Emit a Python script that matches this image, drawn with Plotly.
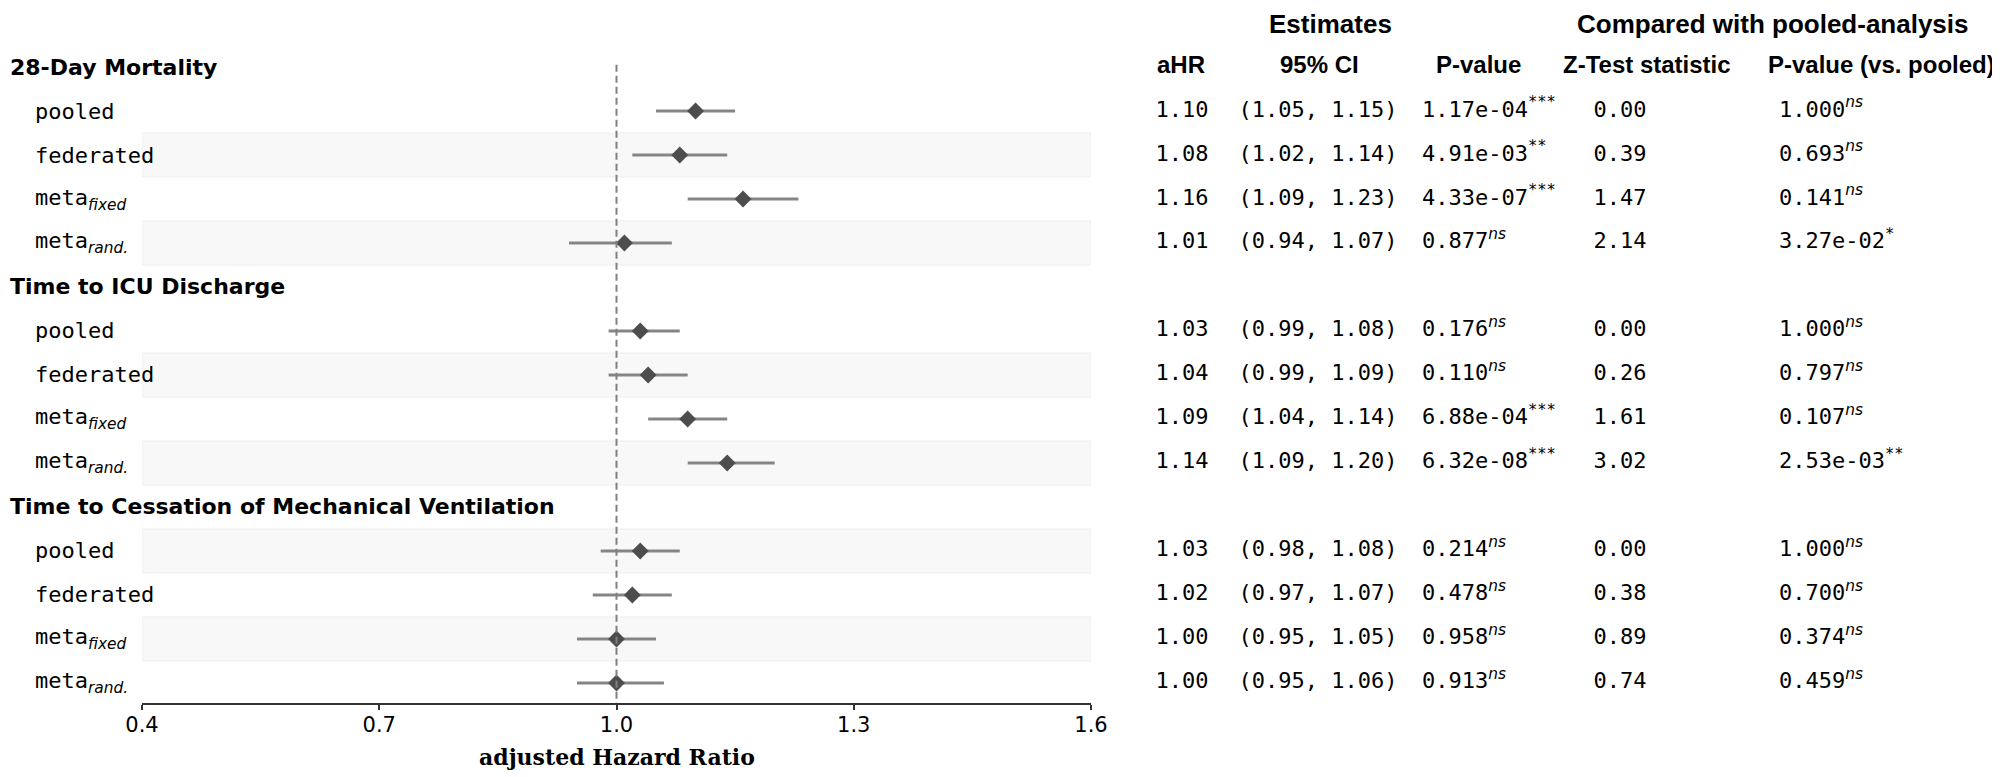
import plotly.graph_objects as go

# ---------------- data ----------------
outcomes = ["28-Day Mortality", "Time to ICU Discharge",
            "Time to Cessation of Mechanical Ventilation"]
methods = ["pooled", "federated", "meta_fixed", "meta_rand"]

ahr   = [1.10, 1.08, 1.16, 1.01,  1.03, 1.04, 1.09, 1.14,  1.03, 1.02, 1.00, 1.00]
ci_lo = [1.05, 1.02, 1.09, 0.94,  0.99, 0.99, 1.04, 1.09,  0.98, 0.97, 0.95, 0.95]
ci_hi = [1.15, 1.14, 1.23, 1.07,  1.08, 1.09, 1.14, 1.20,  1.08, 1.07, 1.05, 1.06]
p_val = ["1.17e-04", "4.91e-03", "4.33e-07", "0.877",
         "0.176", "0.110", "6.88e-04", "6.32e-08",
         "0.214", "0.478", "0.958", "0.913"]
p_sig = ["***", "**", "***", "ns", "ns", "ns", "***", "***", "ns", "ns", "ns", "ns"]
z_stat = ["0.00", "0.39", "1.47", "2.14", "0.00", "0.26", "1.61", "3.02",
          "0.00", "0.38", "0.89", "0.74"]
p_pool = ["1.000", "0.693", "0.141", "3.27e-02", "1.000", "0.797", "0.107", "2.53e-03",
          "1.000", "0.700", "0.374", "0.459"]
p_pool_sig = ["ns", "ns", "ns", "*", "ns", "ns", "ns", "**", "ns", "ns", "ns", "ns"]

x_ticks = [0.4, 0.7, 1.0, 1.3, 1.6]
col_headers = ["aHR", "95% CI", "P-value", "Z-Test statistic", "P-value (vs. pooled)"]
group_headers = ["Estimates", "Compared with pooled-analysis"]
x_label = "adjusted Hazard Ratio"
shaded_rows = [2, 4, 7, 9, 11, 13]

# ---------------- layout helpers (page pixel coordinates) ----------------
PAGE_W, PAGE_H = 2000, 777
OFF = 8                       # default body margin of the html page
W, H = PAGE_W - OFF, PAGE_H - OFF
L, R, T, B = 142, 1091, 45, 703   # forest plot area in page pixels
TL = 1100                          # table area starts here (page pixels)
PH = B - T


def px(x):
    return (x - OFF) / W


def py(y):
    return (B - y) / PH


MONO = "DejaVu Sans Mono"
SANS = "DejaVu Sans"
HEAD = "Liberation Sans"


def method_label(m):
    if m == "meta_fixed":
        return "meta<sub><span style='font-family:DejaVu Sans'><i>fixed</i></span></sub>"
    if m == "meta_rand":
        return "meta<sub><span style='font-family:DejaVu Sans'><i>rand.</i></span></sub>"
    return m


def sig(s):
    if s == "ns":
        return "<sup><span style='font-family:DejaVu Sans'><i>ns</i></span></sup>"
    return "<sup>" + s + "</sup>"


# rows: each outcome header followed by its methods
row_y = []
row_kind = []
item_rows = []
r = 0
for g, name in enumerate(outcomes):
    row_y.append(r)
    row_kind.append(("head", name))
    r += 1
    for m in methods:
        row_y.append(r)
        row_kind.append(("item", m))
        item_rows.append(r)
        r += 1

fig = go.Figure()

fig.add_trace(go.Scatter(
    x=ahr, y=item_rows, mode="markers",
    marker=dict(symbol="diamond", size=13, color="#4d4d4d", line=dict(width=0)),
    error_x=dict(type="data", symmetric=False,
                 array=[h - a for h, a in zip(ci_hi, ahr)],
                 arrayminus=[a - l for a, l in zip(ahr, ci_lo)],
                 color="#858585", thickness=3, width=0),
    showlegend=False, hoverinfo="skip",
))

# ---------------- table as text traces on a pixel-scaled axis ----------------
table_cols = [
    (1182, "middle center", [f"{v:.2f}" for v in ahr]),
    (1318, "middle center", [f"({lo:.2f}, {hi:.2f})" for lo, hi in zip(ci_lo, ci_hi)]),
    (1422, "middle right", [p + sig(s) for p, s in zip(p_val, p_sig)]),
    (1620, "middle center", z_stat),
    (1779, "middle right", [p + sig(s) for p, s in zip(p_pool, p_pool_sig)]),
]
for cx, pos, texts in table_cols:
    fig.add_trace(go.Scatter(
        x=[cx] * len(texts), y=item_rows, text=texts, mode="text",
        textposition=pos, textfont=dict(family=MONO, size=22, color="black"),
        cliponaxis=False, xaxis="x2", yaxis="y", showlegend=False, hoverinfo="skip",
    ))

shapes = []
for sr in shaded_rows:
    shapes.append(dict(type="rect", xref="x", yref="y", x0=0.4, x1=1.6,
                       y0=sr - 0.5, y1=sr + 0.5, fillcolor="#f8f8f8",
                       line=dict(color="#efefef", width=1), layer="below"))
shapes.append(dict(type="line", xref="x", yref="y", x0=1.0, x1=1.0,
                   y0=-0.05, y1=14.455, line=dict(color="#808080", width=2, dash="7px,4px"),
                   layer="above"))

ann = []
for ry, (kind, txt) in zip(row_y, row_kind):
    if kind == "head":
        ann.append(dict(text="<b>" + txt + "</b>", xref="paper", yref="y", x=px(OFF), y=ry,
                        xanchor="left", yanchor="middle", showarrow=False,
                        font=dict(family=SANS, size=22, color="black")))
    else:
        ann.append(dict(text=method_label(txt), xref="paper", yref="y", x=px(33), y=ry,
                        xanchor="left", yanchor="middle", showarrow=False,
                        font=dict(family=MONO, size=22, color="black")))

col_x = [1181, 1319, 1478, 1647, 1881]
for cx, t in zip(col_x, col_headers):
    ann.append(dict(text="<b>" + t + "</b>", xref="paper", yref="paper", x=px(cx), y=py(65),
                    xanchor="center", yanchor="middle", showarrow=False,
                    font=dict(family=HEAD, size=24, color="black")))
for cx, t in zip([1330, 1773], group_headers):
    ann.append(dict(text="<b>" + t + "</b>", xref="paper", yref="paper", x=px(cx), y=py(24),
                    xanchor="center", yanchor="middle", showarrow=False, borderpad=0,
                    font=dict(family=HEAD, size=26, color="black")))

ann.append(dict(text="<b>" + x_label + "</b>", xref="paper", yref="paper",
                x=px((L + R) / 2), y=py(757),
                xanchor="center", yanchor="middle", showarrow=False,
                font=dict(family="DejaVu Serif", size=22, color="black")))

fig.update_layout(
    width=W, height=H,
    margin=dict(l=0, r=0, t=T - OFF, b=PAGE_H - B, pad=0, autoexpand=False),
    paper_bgcolor="white", plot_bgcolor="white",
    shapes=shapes, annotations=ann,
    xaxis=dict(domain=[px(L), px(R)], range=[0.4, 1.6], tickvals=x_ticks,
               ticktext=[f"{v:.1f}" for v in x_ticks], automargin=False,
               showgrid=False, zeroline=False, showline=True, linecolor="#333333",
               linewidth=2, ticks="outside", ticklen=5, tickwidth=2, tickcolor="#333333",
               ticklabelstandoff=-3,
               tickfont=dict(family=SANS, size=21, color="black")),
    xaxis2=dict(domain=[px(TL), 1.0], range=[TL, PAGE_W], visible=False,
                anchor="y", showgrid=False, zeroline=False, automargin=False),
    yaxis=dict(range=[14.455, -0.5], visible=False, showgrid=False, zeroline=False,
               automargin=False),
)

fig.write_html("out.html")
